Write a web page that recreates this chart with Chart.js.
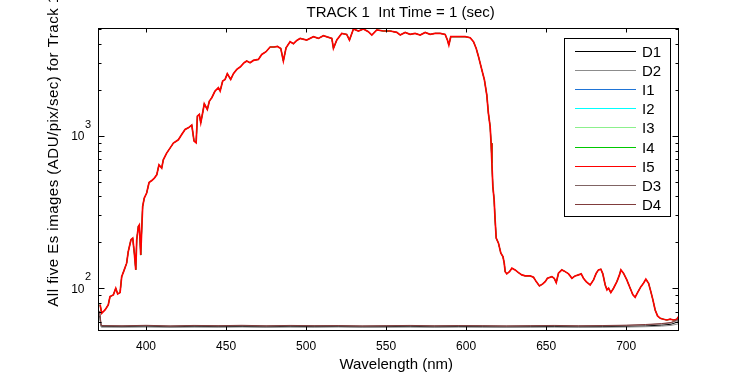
<!DOCTYPE html>
<html>
<head>
<meta charset="utf-8">
<script src="https://cdn.jsdelivr.net/npm/chart.js@4.4.0/dist/chart.umd.min.js"></script>
<style>
html, body { margin: 0; padding: 0; background: #fff; }
#wrap { width: 750px; height: 375px; }
</style>
</head>
<body>
<div id="wrap"><canvas id="esChart"></canvas></div>
<script>
// Es spectrum (the five images sit on top of each other)
var esWavelength = [371.3, 372.3, 374.4, 376.4, 377.5, 379.6, 381.1, 382.3, 383.8, 384.8,
  386.4, 387.9, 388.9, 390.6, 391.7, 392.7, 393.6, 394.2, 395.2, 395.8,
  396.7, 397.3, 397.9, 398.9, 400.4, 401.9, 403.6, 405.2, 406.7, 408.1,
  409.8, 410.8, 412.9, 415, 417.1, 420.2, 422.3, 424.4, 426.4, 428.6,
  430, 431.3, 432.1, 433.3, 434.2, 435.4, 436.4, 438.3, 439.6, 441.1,
  443.1, 445.2, 446.3, 447.9, 449.4, 450.8, 452.9, 454.6, 456.7, 458.8,
  461.3, 462.9, 465, 467.1, 470.2, 472.3, 475, 477.5, 480, 482.1,
  484.2, 485.8, 487.5, 490, 492.1, 494.2, 496.3, 500.4, 504.6, 507.7,
  510.8, 516.1, 517.1, 519.2, 522.3, 525.4, 527.1, 529.6, 532.7, 535.8,
  538.9, 541.1, 544.2, 548.3, 552.5, 556.7, 558.8, 561.9, 565, 568.1,
  571.3, 574.4, 577.5, 580.6, 583.8, 586.9, 588.3, 589.2, 590.4, 593.1,
  596.3, 599.4, 602.5, 604.6, 606.3, 607.7, 609.8, 611.4, 612.9, 613.9,
  615, 615.6, 616.1, 616.7, 617.5, 618.1, 618.8, 620.2, 621.7, 623,
  623.8, 624.4, 625.4, 627.1, 628.6, 630.6, 632.7, 634.8, 636.9, 640,
  642.1, 643.8, 645.8, 647.9, 649.4, 650.8, 653.6, 655, 656.3, 657.7,
  659.8, 661.9, 664, 666.1, 668.1, 670.2, 671.9, 673.3, 675, 677.5,
  679.6, 681.3, 682.7, 684.2, 685.4, 686.9, 688, 689, 690.4, 692.1,
  694.2, 695.8, 696.7, 698.3, 700.4, 702.5, 704.2, 705.6, 707.1, 709.2,
  710.8, 712.3, 714, 715.4, 716.7, 718.1, 719.6, 721.3, 723.3, 725.4,
  727.5, 729.6, 731.7, 732.7];
var esCounts = [78, 68.5, 72, 77.7, 88.1, 90.4, 100, 91.7, 93.6, 119,
  132, 146, 174, 208, 213, 170, 132, 208, 254, 260,
  165, 241, 343, 390, 421, 494, 509, 528, 554, 645,
  614, 696, 770, 830, 895, 941, 1020, 1100, 1128, 1176,
  923, 899, 1347, 1380, 1218, 1416, 1623, 1488, 1690, 1777,
  1966, 2067, 1966, 2287, 2343, 2553, 2343, 2553, 2725, 2826,
  3016, 3094, 3016, 3122, 3170, 3419, 3561, 3823, 3823, 3858,
  3743, 3094, 3783, 4142, 4019, 4225, 4354, 4250, 4467, 4354,
  4535, 4354, 3743, 4250, 4696, 4625, 4250, 5019, 4869, 5019,
  4819, 4583, 4943, 4869, 4869, 4767, 4583, 4767, 4625, 4696,
  4583, 4767, 4625, 4696, 4696, 4625, 4250, 3940, 4467, 4467,
  4467, 4467, 4401, 4142, 3743, 3317, 2713, 2332, 1859, 1409,
  1151, 895, 662, 465, 380, 281, 213, 197.5, 169.7, 161.3,
  146, 128.5, 124.2, 128.5, 135.3, 131.9, 126.6, 122.3, 120.4, 120.4,
  118.1, 110.5, 103.5, 106.7, 110.5, 116.3, 119.2, 116.3, 108.8, 125.5,
  131.9, 128.5, 124.2, 116.3, 120.4, 122.3, 124.2, 116.3, 110.5, 105.1,
  113.4, 125.5, 131.9, 133.3, 124.2, 105.1, 97.5, 100, 93.6, 100,
  110.5, 122.3, 131.9, 125.5, 113.4, 100, 90.4, 87.3, 93.6, 102.4,
  107.8, 114.6, 107.8, 95, 83.8, 72, 65.8, 63.5, 62.6, 61.9,
  62.6, 61.9, 62.6, 65.1];

// dark frames, flat near the floor
var darkWavelength = [371, 372, 385, 400, 415, 430, 445, 460, 475, 490, 505, 520, 535, 550,
  565, 580, 595, 610, 625, 640, 655, 670, 685, 700, 712, 722, 728, 733];
var darkD1 = [66, 56.2, 56.0, 56.3, 55.9, 56.2, 56.0, 56.1, 55.9, 56.2, 56.0, 56.1, 55.9, 56.0,
  56.2, 55.9, 56.1, 56.0, 55.8, 56.0, 56.1, 55.9, 56.0, 56.2, 56.6, 57.2, 58.0, 60.5];
var darkD2 = [64, 55.5, 55.4, 55.6, 55.3, 55.5, 55.4, 55.6, 55.3, 55.5, 55.4, 55.6, 55.3, 55.4,
  55.5, 55.3, 55.5, 55.4, 55.3, 55.4, 55.5, 55.3, 55.4, 55.6, 55.9, 56.4, 57.0, 58.5];
var darkD3 = [70, 56.7, 56.5, 56.9, 56.4, 56.8, 56.6, 56.9, 56.5, 56.8, 56.6, 56.7, 56.4, 56.6,
  56.8, 56.5, 56.7, 56.6, 56.4, 56.6, 56.8, 56.5, 56.7, 57.0, 57.5, 58.3, 59.2, 62.0];
var darkD4 = [71, 56.9, 56.7, 57.1, 56.6, 57.0, 56.8, 57.1, 56.7, 57.0, 56.8, 56.9, 56.6, 56.8,
  57.0, 56.7, 56.9, 56.8, 56.6, 56.8, 57.0, 56.7, 56.9, 57.2, 57.8, 58.6, 59.6, 63.0];

var seriesNames = ['D1', 'D2', 'I1', 'I2', 'I3', 'I4', 'I5', 'D3', 'D4'];
var seriesColors = ['#000000', '#8c8c8c', '#1f74d6', '#00ffff', '#8cf08c', '#00c800', '#ff0000', '#806464', '#803c3c'];

var xTicks = [400, 450, 500, 550, 600, 650, 700];
var yMajorTicks = [100, 1000];
var yMinorTicks = [60, 70, 80, 90, 200, 300, 400, 500, 600, 700, 800, 900, 2000, 3000, 4000, 5000];

var FONT = '"Liberation Sans", Arial, Helvetica, sans-serif';

function pts(xs, ys) {
  return xs.map(function (x, i) { return { x: x, y: ys[i] }; });
}

var seriesData = [
  pts(darkWavelength, darkD1),
  pts(darkWavelength, darkD2),
  pts(esWavelength, esCounts),
  pts(esWavelength, esCounts),
  pts(esWavelength, esCounts),
  pts(esWavelength, esCounts),
  pts(esWavelength, esCounts),
  pts(darkWavelength, darkD3),
  pts(darkWavelength, darkD4)
];

var datasets = seriesNames.map(function (name, i) {
  return {
    label: name,
    data: seriesData[i],
    borderColor: seriesColors[i],
    backgroundColor: seriesColors[i],
    borderWidth: name === 'I5' ? 1.7 : 1,
    pointRadius: 0,
    tension: 0,
    fill: false,
    order: seriesNames.length - 1 - i   // later series on top, like the original plot
  };
});

// box, inward ticks, labels, titles and legend in the old matlab look
var matlabFrame = {
  id: 'matlabFrame',
  afterDraw: function (chart) {
    var ctx = chart.ctx;
    var a = chart.chartArea;
    var xs = chart.scales.x, ys = chart.scales.y;
    var L = a.left + 0.5, R = a.right - 0.5, T = a.top + 0.5, B = a.bottom - 0.5;

    ctx.save();
    ctx.strokeStyle = '#000';
    ctx.fillStyle = '#000';
    ctx.lineWidth = 1;
    ctx.strokeRect(L, T, R - L, B - T);

    ctx.beginPath();
    xTicks.forEach(function (v) {
      var px = Math.round(xs.getPixelForValue(v)) + 0.5;
      ctx.moveTo(px, B); ctx.lineTo(px, B - 4);
      ctx.moveTo(px, T); ctx.lineTo(px, T + 4);
    });
    yMajorTicks.forEach(function (v) {
      var py = Math.round(ys.getPixelForValue(v)) + 0.5;
      ctx.moveTo(L, py); ctx.lineTo(L + 6, py);
      ctx.moveTo(R, py); ctx.lineTo(R - 6, py);
    });
    yMinorTicks.forEach(function (v) {
      var py = Math.round(ys.getPixelForValue(v)) + 0.5;
      ctx.moveTo(L, py); ctx.lineTo(L + 3, py);
      ctx.moveTo(R, py); ctx.lineTo(R - 3, py);
    });
    ctx.stroke();

    // tick labels
    ctx.font = '12px ' + FONT;
    ctx.textAlign = 'center';
    ctx.textBaseline = 'alphabetic';
    xTicks.forEach(function (v) {
      ctx.fillText(String(v), xs.getPixelForValue(v), 349.5);
    });
    yMajorTicks.forEach(function (v) {
      var py = ys.getPixelForValue(v);
      ctx.font = '12px ' + FONT;
      ctx.textAlign = 'right';
      ctx.fillText('10', 84.5, py + 4.3);
      ctx.font = '11px ' + FONT;
      ctx.textAlign = 'left';
      ctx.fillText(String(Math.round(Math.log10(v))), 85, py - 8);
    });

    // titles
    ctx.font = '15px ' + FONT;
    ctx.textAlign = 'center';
    ctx.fillText('TRACK 1  Int Time = 1 (sec)', 400.7, 17);
    ctx.fillText('Wavelength (nm)', 396.2, 369);
    ctx.save();
    ctx.translate(57.5, 306.7);
    ctx.rotate(-Math.PI / 2);
    ctx.textAlign = 'left';
    ctx.letterSpacing = '0.5px';
    ctx.fillText('All five Es images (ADU/pix/sec) for Track 1', 0, 0);
    ctx.letterSpacing = '0px';
    ctx.restore();

    // legend box
    ctx.fillStyle = '#fff';
    ctx.fillRect(564.5, 38.5, 106, 178);
    ctx.strokeStyle = '#000';
    ctx.strokeRect(564.5, 38.5, 106, 178);
    ctx.font = '15px ' + FONT;
    ctx.textAlign = 'left';
    chart.data.datasets.forEach(function (ds, i) {
      var y = Math.round(50.7 + i * 19.16) + 0.5;
      ctx.strokeStyle = ds.borderColor;
      ctx.lineWidth = 1;
      ctx.beginPath();
      ctx.moveTo(575, y); ctx.lineTo(636, y);
      ctx.stroke();
      ctx.fillStyle = '#000';
      ctx.fillText(ds.label, 642, y + 5.3);
    });
    ctx.restore();
  }
};

var esChart = new Chart(document.getElementById('esChart'), {
  type: 'line',
  data: { datasets: datasets },
  options: {
    responsive: true,
    maintainAspectRatio: false,
    animation: false,
    layout: { padding: { left: 98, top: 28, right: 71, bottom: 44 } },
    plugins: {
      legend: { display: false },
      tooltip: { enabled: false }
    },
    scales: {
      x: { type: 'linear', min: 370, max: 733, display: false },
      y: { type: 'logarithmic', min: 52.4, max: 5095, display: false }
    }
  },
  plugins: [matlabFrame]
});
</script>
</body>
</html>
